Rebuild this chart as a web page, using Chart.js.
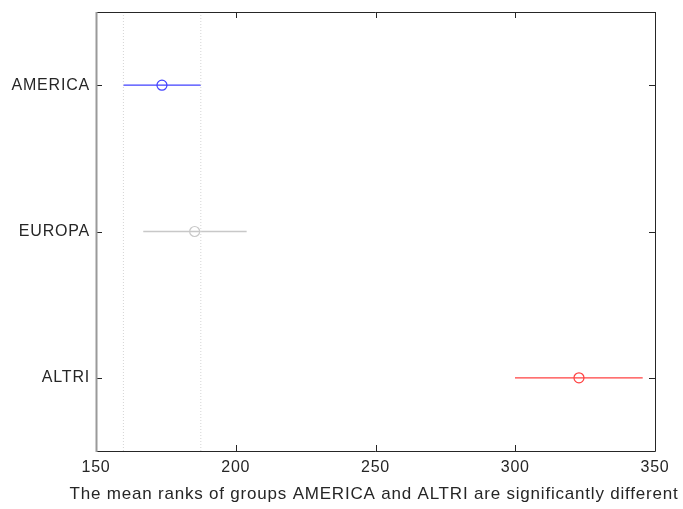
<!DOCTYPE html>
<html><head><meta charset="utf-8">
<script src="https://cdn.jsdelivr.net/npm/chart.js@4/dist/chart.umd.min.js"></script>
<style>html,body{margin:0;padding:0;background:#fff}canvas{display:block}</style>
</head><body>
<canvas id="c" width="683" height="509"></canvas>
<script>
const groups = ['AMERICA', 'EUROPA', 'ALTRI'];
const groupPos = [3, 2, 1];
const means = [173.6, 185.3, 322.8];
const lower = [159.8, 166.9, 299.9];
const upper = [187.5, 203.9, 345.6];
const groupColors = ['#4040ff', '#c8c8c8', '#ff4040'];
const xTicks = [150, 200, 250, 300, 350];
const refLines = [lower[0], upper[0]];
const xLabel = 'The mean ranks of groups AMERICA and ALTRI are significantly different';

const FAMILY = 'Liberation Sans, Arial, sans-serif';
const datasets = [];
refLines.forEach(v => datasets.push({
  type: 'line', data: [{x: v, y: 0.5}, {x: v, y: 3.5}],
  borderColor: '#d4d4d4', borderWidth: 1, borderDash: [1, 2], pointRadius: 0, fill: false
}));
groups.forEach((g, i) => {
  datasets.push({
    type: 'line', data: [{x: lower[i], y: groupPos[i]}, {x: upper[i], y: groupPos[i]}],
    borderColor: groupColors[i], borderWidth: 1.3, pointRadius: 0, fill: false
  });
  datasets.push({
    type: 'scatter', data: [{x: means[i], y: groupPos[i]}],
    borderColor: groupColors[i], backgroundColor: 'rgba(0,0,0,0)', borderWidth: 1.2,
    pointRadius: 5, pointStyle: 'circle'
  });
});

const spacingPlugin = {
  id: 'spacing',
  beforeLayout(chart) { chart.ctx.letterSpacing = '0.8px'; },
  beforeDraw(chart) { chart.ctx.letterSpacing = '0.8px'; }
};

const boxPlugin = {
  id: 'box',
  afterDraw(chart) {
    const {ctx, chartArea: a, scales: {x, y}} = chart;
    ctx.save();
    ctx.strokeStyle = '#262626';
    ctx.lineWidth = 1;
    ctx.beginPath();
    ctx.moveTo(a.left, a.top + 0.5); ctx.lineTo(a.right + 0.5, a.top + 0.5);
    ctx.lineTo(a.right + 0.5, a.bottom + 0.5); ctx.lineTo(a.left, a.bottom + 0.5);
    const tl = 6;
    xTicks.forEach(v => {
      const px = Math.round(x.getPixelForValue(v)) + 0.5;
      ctx.moveTo(px, a.bottom); ctx.lineTo(px, a.bottom - tl);
      ctx.moveTo(px, a.top); ctx.lineTo(px, a.top + tl);
    });
    groupPos.forEach(v => {
      const py = Math.round(y.getPixelForValue(v)) + 0.5;
      ctx.moveTo(a.left, py); ctx.lineTo(a.left + tl, py);
      ctx.moveTo(a.right, py); ctx.lineTo(a.right - tl, py);
    });
    ctx.stroke();
    ctx.strokeStyle = '#9a9a9a';
    ctx.lineWidth = 2;
    ctx.beginPath();
    ctx.moveTo(a.left + 0.5, a.top); ctx.lineTo(a.left + 0.5, a.bottom + 1);
    ctx.stroke();
    // x-axis label
    ctx.letterSpacing = '0.8px';
    ctx.fillStyle = '#262626';
    ctx.font = '17px ' + FAMILY;
    ctx.textAlign = 'center';
    ctx.textBaseline = 'middle';
    ctx.fillText(xLabel, (a.left + a.right) / 2 - 1.5, a.bottom + 43);
    ctx.restore();
  }
};

const font = {family: FAMILY, size: 16};
new Chart(document.getElementById('c'), {
  data: {datasets},
  options: {
    responsive: false, animation: false, devicePixelRatio: 1,
    layout: {padding: {left: 0, top: 12, right: 28, bottom: 0}},
    plugins: {legend: {display: false}, tooltip: {enabled: false}},
    scales: {
      x: {
        type: 'linear', min: 150, max: 350,
        afterBuildTicks: s => { s.ticks = xTicks.map(v => ({value: v})); },
        ticks: {font, color: '#262626', padding: 7, maxRotation: 0},
        grid: {display: false, drawTicks: false}, border: {display: false},
        afterFit: s => { s.height = 58; s.paddingLeft = 0; s.paddingRight = 0; }
      },
      y: {
        type: 'linear', min: 0.5, max: 3.5,
        afterBuildTicks: s => { s.ticks = groupPos.map(v => ({value: v})); },
        ticks: {font, color: '#262626', padding: 6,
                callback: v => groups[groupPos.indexOf(v)] || ''},
        grid: {display: false, drawTicks: false}, border: {display: false},
        afterFit: s => { s.width = 96; s.paddingTop = 0; s.paddingBottom = 0; }
      }
    }
  },
  plugins: [spacingPlugin, boxPlugin]
});
</script>
</body></html>
